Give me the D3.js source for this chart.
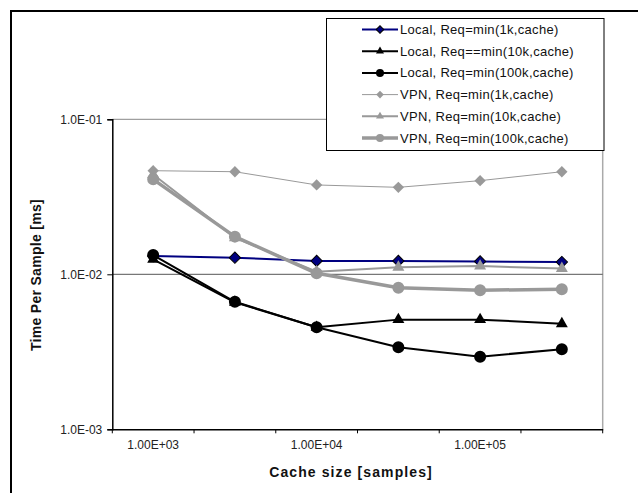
<!DOCTYPE html>
<html><head><meta charset="utf-8">
<script src="https://cdn.jsdelivr.net/npm/d3@7"></script>
<style>body{margin:0;background:#fff}svg{display:block;font-family:Arial,"Liberation Sans",sans-serif}</style>
</head><body>
<svg id="c" width="638" height="493"></svg>
<script>
const categories = [1e3, 3e3, 1e4, 3e4, 1e5, 3e5];
const xTickLabels = ["1.00E+03", "", "1.00E+04", "", "1.00E+05", ""];
const yTickValues = [1e-3, 1e-2, 1e-1];
const yTickLabels = ["1.0E-03", "1.0E-02", "1.0E-01"];
const seriesNames = ["Local, Req=min(1k,cache)", "Local, Req==min(10k,cache)", "Local, Req=min(100k,cache)",
  "VPN, Req=min(1k,cache)", "VPN, Req=min(10k,cache)", "VPN, Req=min(100k,cache)"];
const localReq1k   = [0.0131, 0.0128, 0.0122, 0.0122, 0.0121, 0.0120];
const localReq10k  = [0.0125, 0.0066, 0.00455, 0.0051, 0.0051, 0.0048];
const localReq100k = [0.0133, 0.00665, 0.00455, 0.00338, 0.00294, 0.00329];
const vpnReq1k     = [0.0466, 0.0459, 0.0377, 0.0364, 0.0402, 0.0459];
const vpnReq10k    = [0.0440, 0.0172, 0.0104, 0.0111, 0.0113, 0.0109];
const vpnReq100k   = [0.0410, 0.0175, 0.01015, 0.0082, 0.0079, 0.0080];

const seriesValues = [localReq1k, localReq10k, localReq100k, vpnReq1k, vpnReq10k, vpnReq100k];
const styles = [
  {stroke:"#000080", width:2, shape:"diamond", fill:"#000080", mstroke:"#000", size:64},
  {stroke:"#000", width:2, shape:"triangle", fill:"#000", mstroke:"none", size:62},
  {stroke:"#000", width:2, shape:"circle", fill:"#000", mstroke:"none", size:113},
  {stroke:"#999", width:1, shape:"diamond", fill:"#999", mstroke:"none", size:64},
  {stroke:"#999", width:2, shape:"triangle", fill:"#999", mstroke:"none", size:62},
  {stroke:"#999", width:3.5, shape:"circle", fill:"#999", mstroke:"none", size:113}
];

const svg = d3.select("#c");
const L = 112.3, R = 602.7, T = 119.3, B = 429.3;
const x = d3.scaleBand().domain(categories).range([L, R]).padding(0);
const y = d3.scaleLog().domain([1e-3, 1e-1]).range([B, T]);
const cx = d => x(d) + x.bandwidth() / 2;

// outer chart border (only top and left edges fall inside the picture)
svg.append("path").attr("d", "M11,493V11H638")
  .attr("fill", "none").attr("stroke", "#000").attr("stroke-width", 2);

// plot area border (top/right grey)
svg.append("line").attr("x1", L).attr("x2", R).attr("y1", T).attr("y2", T).attr("stroke", "#888");
svg.append("line").attr("x1", R).attr("x2", R).attr("y1", T).attr("y2", B).attr("stroke", "#aaa").attr("stroke-width", 1.5);
// gridline
svg.append("line").attr("x1", L).attr("x2", R).attr("y1", y(1e-2)).attr("y2", y(1e-2)).attr("stroke", "#555");

// y axis
const yAxis = d3.axisLeft(y).tickValues(yTickValues).tickSize(5).tickPadding(5)
  .tickFormat((d, i) => yTickLabels[i]);
const gy = svg.append("g").attr("transform", `translate(${L},0)`).call(yAxis);
gy.select(".domain").attr("stroke", "#000").attr("stroke-width", 1.5);
gy.selectAll(".tick line").attr("stroke", "#000");
gy.selectAll("text").attr("font-size", 12).attr("fill", "#222").attr("font-family", "Arial, Liberation Sans, sans-serif");

// x axis (labels at category centers, ticks at band edges)
const xAxis = d3.axisBottom(x).tickSize(0).tickPadding(11).tickFormat((d, i) => xTickLabels[i]);
const gx = svg.append("g").attr("transform", `translate(0,${B})`).call(xAxis);
gx.select(".domain").attr("stroke", "#000").attr("stroke-width", 1.5);
gx.selectAll("text").attr("font-size", 12).attr("fill", "#222").attr("font-family", "Arial, Liberation Sans, sans-serif");
const edges = categories.map(d => x(d)).concat([x(categories[categories.length - 1]) + x.bandwidth()]);
svg.append("g").selectAll("line").data(edges).join("line")
  .attr("x1", d => d).attr("x2", d => d).attr("y1", B).attr("y2", B + 4).attr("stroke", "#000");

// axis titles
svg.append("text").attr("x", 351).attr("y", 476.5).attr("text-anchor", "middle")
  .attr("font-size", 14).attr("font-weight", "bold").attr("letter-spacing", 1.1).attr("fill", "#111").text("Cache size [samples]");
svg.append("text").attr("transform", "translate(41,275) rotate(-90)").attr("text-anchor", "middle")
  .attr("font-size", 14).attr("font-weight", "bold").attr("letter-spacing", 0.3).attr("fill", "#111").text("Time Per Sample [ms]");

function sym(st, scale) {
  if (st.shape === "diamond") return d3.symbol().type(d3.symbolSquare).size(st.size * scale)();
  if (st.shape === "triangle") return d3.symbol().type(d3.symbolTriangle).size(st.size * scale)();
  return d3.symbol().type(d3.symbolCircle).size(st.size * scale)();
}
const rot = st => st.shape === "diamond" ? " rotate(45)" : "";

// series
seriesValues.forEach((vals, si) => {
  const st = styles[si];
  const g = svg.append("g");
  g.append("path").datum(vals)
    .attr("d", d3.line().x((d, i) => cx(categories[i])).y(d => y(d)))
    .attr("fill", "none").attr("stroke", st.stroke).attr("stroke-width", st.width).attr("stroke-linejoin", "round");
  g.selectAll("path.m").data(vals).join("path").attr("class", "m")
    .attr("d", sym(st, 1))
    .attr("transform", (d, i) => `translate(${cx(categories[i])},${y(d)})${rot(st)}`)
    .attr("fill", st.fill).attr("stroke", st.mstroke).attr("stroke-width", 1);
});

// legend
const lg = svg.append("g");
lg.append("rect").attr("x", 326.5).attr("y", 18.5).attr("width", 277.5).attr("height", 132)
  .attr("fill", "#fff").attr("stroke", "#000").attr("stroke-width", 1);
const rowY = d3.scaleLinear().domain([0, 5]).range([29.5, 138]);
seriesNames.forEach((name, si) => {
  const st = styles[si];
  const yy = rowY(si);
  lg.append("line").attr("x1", 362).attr("x2", 398).attr("y1", yy).attr("y2", yy)
    .attr("stroke", st.stroke).attr("stroke-width", st.width);
  lg.append("path").attr("d", sym(st, 0.45)).attr("transform", `translate(380,${yy})${rot(st)}`)
    .attr("fill", st.fill).attr("stroke", st.mstroke);
  lg.append("text").attr("x", 400).attr("y", yy + 4.5).attr("font-size", 13).attr("letter-spacing", 0.3)
    .attr("fill", "#111").text(name);
});
</script>
</body></html>
